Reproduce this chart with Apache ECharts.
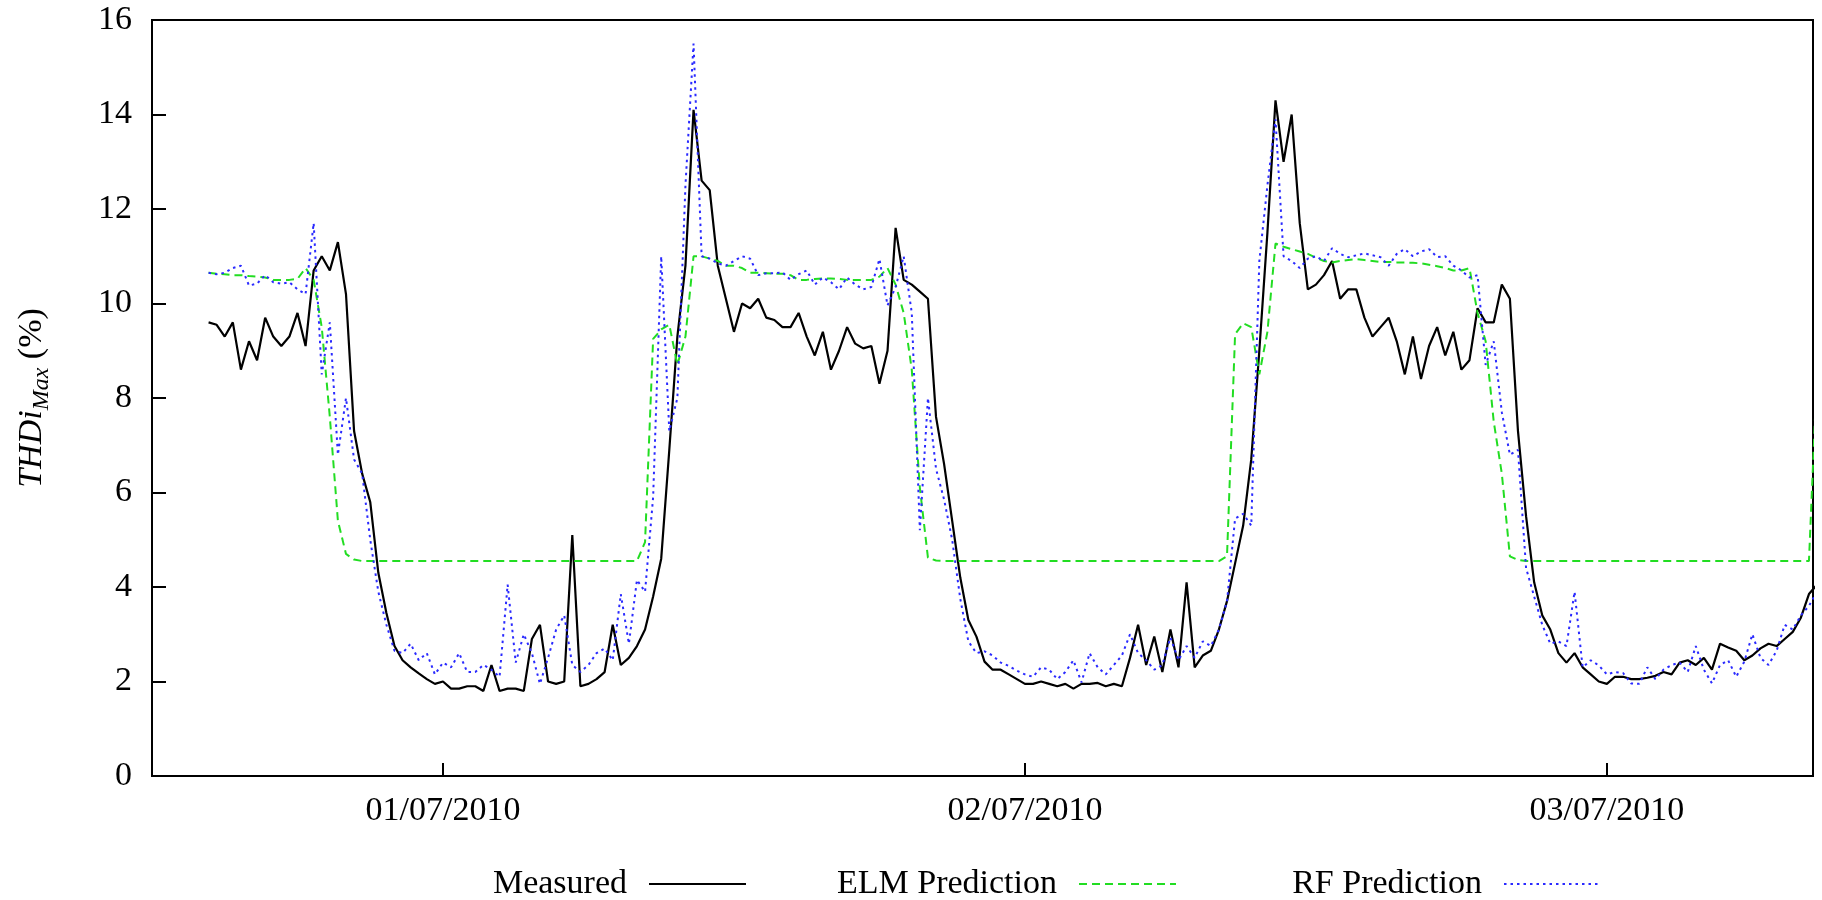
<!DOCTYPE html>
<html>
<head>
<meta charset="utf-8">
<script src="https://cdn.jsdelivr.net/npm/echarts@6/dist/echarts.min.js"></script>
<style>
html,body{margin:0;padding:0;background:#fff;}
#chart{width:1822px;height:900px;}
</style>
</head>
<body>
<div id="chart"></div>
<script>
// Time is expressed in hours since 30/06/2010 00:00; samples every 20 minutes
const startHour = 14 + 20 / 60;   // first sample 30/06/2010 14:20
const stepHours = 20 / 60;
const xMinHour = 12;              // 30/06/2010 12:00
const xMaxHour = 80.5;            // 03/07/2010 08:30
const tickHours = [24, 48, 72];
const tickLabels = ['01/07/2010', '02/07/2010', '03/07/2010'];
const seriesNames = ['Measured', 'ELM Prediction', 'RF Prediction'];

const measured = [
  9.6, 9.55, 9.3, 9.6, 8.6, 9.2, 8.8, 9.7, 9.3, 9.1,
  9.3, 9.8, 9.1, 10.7, 11.0, 10.7, 11.3, 10.2, 7.3, 6.4,
  5.8, 4.3, 3.45, 2.75, 2.45, 2.3, 2.17, 2.05, 1.95, 2.0,
  1.85, 1.85, 1.9, 1.9, 1.8, 2.35, 1.8, 1.85, 1.85, 1.8,
  2.9, 3.2, 2.0, 1.95, 2.0, 5.1, 1.9, 1.95, 2.05, 2.2,
  3.2, 2.35, 2.5, 2.75, 3.1, 3.8, 4.6, 6.9, 9.3, 10.8,
  14.1, 12.6, 12.4, 10.8, 10.1, 9.4, 10.0, 9.9, 10.1, 9.7,
  9.65, 9.5, 9.5, 9.8, 9.3, 8.9, 9.4, 8.6, 9.0, 9.5,
  9.15, 9.05, 9.1, 8.3, 9.0, 11.6, 10.5, 10.4, 10.25, 10.1,
  7.6, 6.6, 5.4, 4.2, 3.3, 2.95, 2.42, 2.25, 2.25, 2.15,
  2.05, 1.95, 1.95, 2.0, 1.95, 1.9, 1.95, 1.85, 1.95, 1.95,
  1.97, 1.9, 1.95, 1.9, 2.5, 3.2, 2.35, 2.95, 2.2, 3.1,
  2.3, 4.1, 2.3, 2.55, 2.65, 3.1, 3.7, 4.5, 5.3, 6.7,
  9.0, 11.5, 14.3, 13.0, 14.0, 11.7, 10.3, 10.4, 10.6, 10.9,
  10.1, 10.3, 10.3, 9.7, 9.3, 9.5, 9.7, 9.2, 8.5, 9.3,
  8.4, 9.1, 9.5, 8.9, 9.4, 8.6, 8.8, 9.9, 9.6, 9.6,
  10.4, 10.1, 7.3, 5.5, 4.1, 3.4, 3.1, 2.6, 2.4, 2.6,
  2.3, 2.15, 2.0, 1.95, 2.1, 2.1, 2.05, 2.05, 2.08, 2.12,
  2.2, 2.15, 2.4, 2.45, 2.35, 2.5, 2.25, 2.8, 2.72, 2.65,
  2.45, 2.55, 2.7, 2.8, 2.75, 2.9, 3.05, 3.35, 3.85, 4.05
];

const elm = [
  10.65, 10.63, 10.62, 10.6, 10.6, 10.58, 10.57, 10.55, 10.5, 10.5,
  10.5, 10.52, 10.75, 10.5, 9.5, 7.6, 5.4, 4.7, 4.58, 4.55,
  4.55, 4.55, 4.55, 4.55, 4.55, 4.55, 4.55, 4.55, 4.55, 4.55,
  4.55, 4.55, 4.55, 4.55, 4.55, 4.55, 4.55, 4.55, 4.55, 4.55,
  4.55, 4.55, 4.55, 4.55, 4.55, 4.55, 4.55, 4.55, 4.55, 4.55,
  4.55, 4.55, 4.55, 4.55, 4.95, 9.25, 9.45, 9.55, 8.7, 9.3,
  11.0, 11.0, 10.95, 10.9, 10.8, 10.8, 10.75, 10.65, 10.65, 10.64,
  10.63, 10.63, 10.6, 10.5, 10.5, 10.52, 10.53, 10.53, 10.52, 10.5,
  10.5, 10.5, 10.5, 10.57, 10.75, 10.4, 9.8, 8.6, 6.1, 4.62,
  4.56, 4.55, 4.55, 4.55, 4.55, 4.55, 4.55, 4.55, 4.55, 4.55,
  4.55, 4.55, 4.55, 4.55, 4.55, 4.55, 4.55, 4.55, 4.55, 4.55,
  4.55, 4.55, 4.55, 4.55, 4.55, 4.55, 4.55, 4.55, 4.55, 4.55,
  4.55, 4.55, 4.55, 4.55, 4.55, 4.55, 4.65, 9.35, 9.58, 9.5,
  8.5, 9.4, 11.27, 11.2, 11.15, 11.1, 11.05, 10.97, 10.9, 10.87,
  10.9, 10.92, 10.94, 10.92, 10.9, 10.88, 10.88, 10.87, 10.87, 10.86,
  10.85, 10.82, 10.79, 10.75, 10.7, 10.7, 10.75, 9.8, 9.2, 7.5,
  6.4, 4.65, 4.57, 4.55, 4.55, 4.55, 4.55, 4.55, 4.55, 4.55,
  4.55, 4.55, 4.55, 4.55, 4.55, 4.55, 4.55, 4.55, 4.55, 4.55,
  4.55, 4.55, 4.55, 4.55, 4.55, 4.55, 4.55, 4.55, 4.55, 4.55,
  4.55, 4.55, 4.55, 4.55, 4.55, 4.55, 4.55, 4.55, 4.55, 8.6
];

const rf = [
  10.65, 10.62, 10.65, 10.75, 10.8, 10.38, 10.42, 10.6, 10.45, 10.42,
  10.45, 10.3, 10.2, 11.7, 8.5, 9.6, 6.8, 8.0, 6.7, 6.4,
  5.0, 3.9, 3.2, 2.65, 2.6, 2.8, 2.45, 2.6, 2.15, 2.4,
  2.3, 2.6, 2.2, 2.2, 2.35, 2.25, 2.1, 4.05, 2.4, 3.0,
  2.6, 1.95, 2.5, 3.1, 3.4, 2.35, 2.2, 2.35, 2.6, 2.7,
  2.45, 3.85, 2.8, 4.15, 3.9, 5.9, 11.0, 7.3, 8.0, 12.5,
  15.5, 11.0, 10.95, 10.85, 10.8, 10.9, 11.0, 10.95, 10.6, 10.64,
  10.64, 10.66, 10.5, 10.62, 10.7, 10.4, 10.55, 10.45, 10.3, 10.55,
  10.4, 10.3, 10.35, 10.94, 9.96, 10.35, 11.0, 9.8, 5.2, 8.0,
  6.5, 5.85, 5.0, 3.75, 2.85, 2.6, 2.64, 2.55, 2.4, 2.33,
  2.23, 2.15, 2.1, 2.3, 2.25, 2.05, 2.2, 2.45, 1.98, 2.6,
  2.3, 2.15, 2.35, 2.55, 3.0, 2.6, 2.45, 2.25, 2.35, 2.93,
  2.45, 2.75, 2.5, 2.85, 2.75, 3.1, 3.7, 5.45, 5.55, 5.3,
  10.9, 12.5, 13.9, 11.0, 10.9, 10.75, 10.95, 11.0, 10.9, 11.17,
  11.05, 10.98, 11.02, 11.06, 11.02, 10.98, 10.8, 11.05, 11.15, 11.0,
  11.1, 11.15, 10.98, 11.0, 10.8, 10.7, 10.55, 10.6, 8.7, 9.2,
  7.7, 6.8, 6.9, 4.4, 3.8, 3.2, 2.8, 2.85, 2.75, 3.9,
  2.3, 2.45, 2.34, 2.15, 2.2, 2.18, 1.96, 1.95, 2.3, 2.05,
  2.25, 2.35, 2.4, 2.2, 2.75, 2.25, 1.96, 2.35, 2.45, 2.1,
  2.42, 3.0, 2.5, 2.35, 2.65, 3.2, 3.1, 3.4, 3.6, 3.9
];

const hours = measured.map((_, i) => startHour + i * stepHours);
const pairs = arr => arr.map((v, i) => [hours[i], v]);

const FONT = 'Liberation Serif';
const black = '#000';

const chart = echarts.init(document.getElementById('chart'), null, {renderer: 'canvas'});

function legendFor(name, rightPx) {
  return {
    data: [name],
    right: rightPx,
    top: 867,
    orient: 'horizontal',
    align: 'right',
    padding: 0,
    itemWidth: 97,
    itemHeight: 14,
    selectedMode: false,
    itemStyle: {opacity: 0},
    textStyle: {fontFamily: FONT, fontSize: 34, color: black, padding: [0, 17, 0, 0]}
  };
}

const option = {
  animation: false,
  backgroundColor: '#fff',
  grid: {
    left: 152, right: 9, top: 20, bottom: 124,
    show: true, borderColor: black, borderWidth: 2, backgroundColor: 'transparent'
  },
  legend: [
    legendFor(seriesNames[0], 1075),
    legendFor(seriesNames[1], 645),
    legendFor(seriesNames[2], 220)
  ],
  xAxis: {
    type: 'value',
    min: xMinHour,
    max: xMaxHour,
    splitLine: {show: false},
    axisLine: {show: true, onZero: false, lineStyle: {color: black, width: 2}},
    axisTick: {show: true, inside: true, length: 13, customValues: tickHours, lineStyle: {color: black, width: 2}},
    axisLabel: {
      customValues: tickHours,
      formatter: v => { const k = tickHours.indexOf(Math.round(v)); return k >= 0 ? tickLabels[k] : ''; },
      fontFamily: FONT, fontSize: 34, color: black, margin: 18
    }
  },
  yAxis: {
    type: 'value',
    min: 0, max: 16, interval: 2,
    splitLine: {show: false},
    axisLine: {show: true, lineStyle: {color: black, width: 2}},
    axisTick: {show: true, inside: true, length: 14, lineStyle: {color: black, width: 2}},
    axisLabel: {fontFamily: FONT, fontSize: 34, color: black, margin: 20},
    name: '{i|THDi}{s|Max}{n| (%)}',
    nameLocation: 'middle',
    nameRotate: 90,
    nameGap: 98,
    nameTextStyle: {
      rich: {
        i: {fontFamily: FONT, fontStyle: 'italic', fontSize: 34, color: black, lineHeight: 44, verticalAlign: 'middle'},
        s: {fontFamily: FONT, fontStyle: 'italic', fontSize: 24, color: black, lineHeight: 22, verticalAlign: 'bottom'},
        n: {fontFamily: FONT, fontSize: 34, color: black, lineHeight: 44, verticalAlign: 'middle'}
      }
    }
  },
  series: [
    {
      name: seriesNames[0], type: 'line', data: pairs(measured),
      symbol: 'none', clip: true, z: 2,
      lineStyle: {color: '#000', width: 2.2},
      itemStyle: {color: '#000'}
    },
    {
      name: seriesNames[1], type: 'line', data: pairs(elm),
      symbol: 'none', clip: true, z: 3,
      lineStyle: {color: '#22dd22', width: 2, type: [8, 5]},
      itemStyle: {color: '#22dd22'}
    },
    {
      name: seriesNames[2], type: 'line', data: pairs(rf),
      symbol: 'none', clip: true, z: 4,
      lineStyle: {color: '#2a2aff', width: 2, type: [2.5, 4]},
      itemStyle: {color: '#2a2aff'}
    }
  ]
};
chart.setOption(option);
</script>
</body>
</html>
